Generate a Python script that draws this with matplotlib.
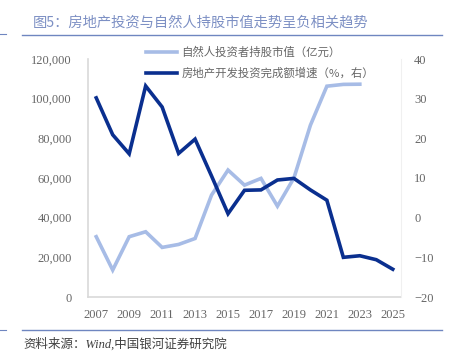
import matplotlib
matplotlib.use("Agg")
import matplotlib.pyplot as plt
from matplotlib.lines import Line2D
from matplotlib.ticker import FuncFormatter

plt.rcParams['font.family'] = ['Noto Sans CJK SC', 'DejaVu Sans']

# data
years_mv = list(range(2007, 2024))
market_value = [30400, 13600, 30400, 32900, 25000, 26500, 29500, 51400, 64000,
                56400, 59800, 45800, 60000, 86600, 106300, 107200, 107300]
years_inv = list(range(2007, 2026))
invest_growth = [30.2, 20.9, 16.1, 33.2, 27.9, 16.2, 19.8, 10.5, 1.0, 6.9, 7.0,
                 9.5, 9.9, 7.0, 4.4, -10.0, -9.6, -10.6, -13.0]
xticks = list(range(2007, 2026, 2))

light = '#a7bce6'
dark = '#0a2f8f'
grey = '#666666'
spine = '#d9d9d9'
num_font = 'Liberation Serif'

fig = plt.figure(figsize=(4.5, 3.59), dpi=100)
ax = fig.add_axes([88/450, 1-297/359, 313/450, 238/359])
ax2 = ax.twinx()

ax.plot(years_mv, market_value, color=light, lw=2.6, solid_joinstyle='miter')
ax2.plot(years_inv, invest_growth, color=dark, lw=2.6, solid_joinstyle='miter')

ax.set_xlim(2006.5, 2025.5)
ax.set_ylim(0, 120000)
ax.set_yticks(range(0, 120001, 20000))
ax.yaxis.set_major_formatter(FuncFormatter(lambda v, p: f'{int(v):,}'))
ax2.set_ylim(-20, 40)
ax2.set_yticks(range(-20, 41, 10))
ax.set_xticks(xticks)

for a in (ax, ax2):
    for s in a.spines.values():
        s.set_visible(False)
    a.tick_params(length=0, labelsize=9, labelcolor=grey)
    for lab in a.get_xticklabels() + a.get_yticklabels():
        lab.set_fontfamily(num_font)
ax.spines['left'].set_visible(True)
ax.spines['bottom'].set_visible(True)
ax.spines['left'].set_color(spine)
ax.spines['bottom'].set_color(spine)
ax.spines['left'].set_linewidth(1.2)
ax.spines['bottom'].set_linewidth(1.2)
ax2.spines['right'].set_visible(True)
ax2.spines['right'].set_color('#f0f0f0')
ax.tick_params(axis='y', pad=11.5)
ax.tick_params(axis='x', pad=8.5)
ax2.tick_params(axis='y', pad=9.5)

handles = [Line2D([], [], color=light, lw=2.6),
           Line2D([], [], color=dark, lw=2.6)]
labels = ['自然人投资者持股市值（亿元）', '房地产开发投资完成额增速（%，右）']
fig.legend(handles, labels, loc='upper left', bbox_to_anchor=(141/450, 1-42/359),
           frameon=False, prop={'size': 8.2}, labelcolor=grey, handlelength=2.8,
           handletextpad=0.35, labelspacing=0.8, borderaxespad=0)

# title and source
fig.text(33/450, 1-23/359, '图5：房地产投资与自然人持股市值走势呈负相关趋势',
         fontsize=10.3, color='#7d90c4', va='center', ha='left')
fig.add_artist(Line2D([22/450, 442/450], [1-35/359, 1-35/359], color='#6f86c0', lw=1))
fig.add_artist(Line2D([0, 6/450], [1-34/359, 1-34/359], color='#6f86c0', lw=0.8))
fig.add_artist(Line2D([22/450, 442/450], [1-330/359, 1-330/359], color='#6f86c0', lw=1))
fig.add_artist(Line2D([0, 6/450], [1-330/359, 1-330/359], color='#6f86c0', lw=0.8))
fig.text(23/450, 1-344/359, '资料来源：Wind,中国银河证券研究院', fontsize=9,
         family=['Liberation Serif', 'Noto Sans CJK SC'],
         color='#404040', style='italic', va='center', ha='left')

fig.savefig('out.png', dpi=100)
